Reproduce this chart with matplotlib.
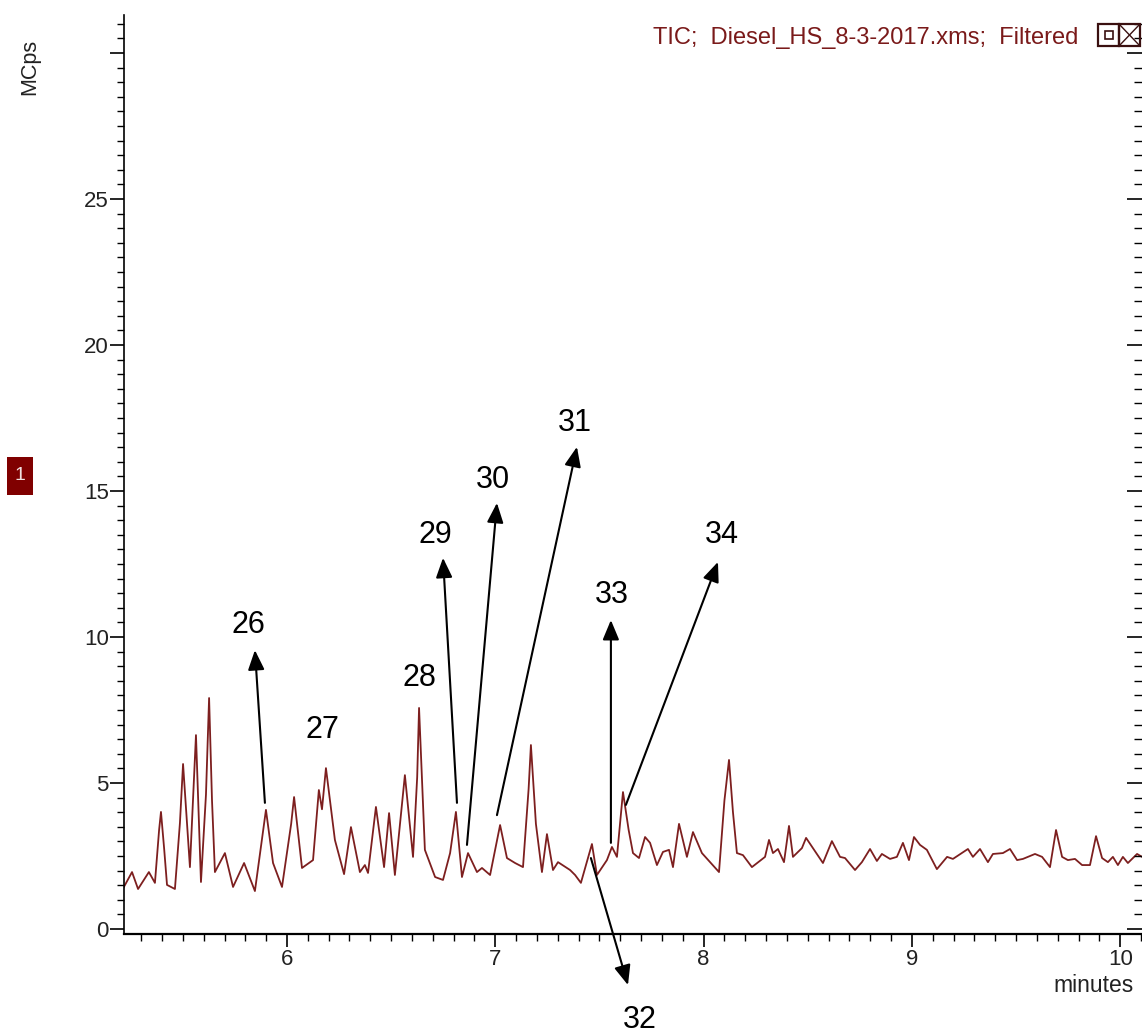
import matplotlib
matplotlib.use("Agg")
import matplotlib.pyplot as plt
from matplotlib.patches import Rectangle
from matplotlib.lines import Line2D
from matplotlib.ticker import MultipleLocator

plt.rcParams["font.family"] = ["Liberation Sans", "DejaVu Sans"]

# chromatogram trace (minutes, MCps)
times = [
    5.217, 5.256, 5.285, 5.337, 5.366, 5.386, 5.395, 5.410, 5.424, 5.462,
    5.486, 5.501, 5.534, 5.563, 5.587, 5.611, 5.626, 5.640, 5.654, 5.702,
    5.741, 5.794, 5.846, 5.880, 5.899, 5.933, 5.976, 6.020, 6.034, 6.072,
    6.125, 6.153, 6.168, 6.187, 6.230, 6.274, 6.307, 6.350, 6.374, 6.389,
    6.427, 6.466, 6.490, 6.518, 6.566, 6.605, 6.625, 6.634, 6.662, 6.711,
    6.749, 6.783, 6.811, 6.840, 6.869, 6.912, 6.936, 6.975, 7.023, 7.056,
    7.095, 7.133, 7.160, 7.171, 7.195, 7.224, 7.248, 7.277, 7.301, 7.359,
    7.383, 7.411, 7.464, 7.488, 7.536, 7.560, 7.584, 7.613, 7.640, 7.661,
    7.690, 7.719, 7.743, 7.776, 7.805, 7.834, 7.853, 7.882, 7.920, 7.949,
    7.992, 8.031, 8.074, 8.100, 8.122, 8.141, 8.160, 8.189, 8.232, 8.295,
    8.314, 8.333, 8.357, 8.386, 8.410, 8.429, 8.472, 8.492, 8.525, 8.573,
    8.616, 8.655, 8.679, 8.727, 8.760, 8.799, 8.832, 8.856, 8.895, 8.928,
    8.957, 8.986, 9.010, 9.039, 9.072, 9.120, 9.169, 9.197, 9.269, 9.293,
    9.327, 9.365, 9.389, 9.437, 9.471, 9.505, 9.533, 9.557, 9.591, 9.625,
    9.663, 9.692, 9.721, 9.749, 9.783, 9.817, 9.855, 9.884, 9.913, 9.941,
    9.965, 9.989, 10.013, 10.037, 10.081, 10.105,
]
intensity = [
    1.44, 1.95, 1.37, 1.95, 1.58, 3.39, 4.01, 2.77, 1.51, 1.37,
    3.63, 5.65, 2.12, 6.64, 1.61, 4.60, 7.91, 4.40, 1.95, 2.60,
    1.44, 2.26, 1.30, 3.10, 4.08, 2.26, 1.44, 3.60, 4.52, 2.09,
    2.36, 4.76, 4.10, 5.51, 3.05, 1.88, 3.49, 1.95, 2.19, 1.92,
    4.18, 2.12, 3.97, 1.85, 5.27, 2.47, 5.20, 7.57, 2.71, 1.78,
    1.68, 2.60, 4.01, 1.78, 2.60, 1.95, 2.09, 1.85, 3.56, 2.43,
    2.26, 2.12, 4.80, 6.30, 3.60, 1.95, 3.25, 2.02, 2.29, 2.02,
    1.85, 1.58, 2.91, 1.85, 2.36, 2.81, 2.47, 4.69, 3.40, 2.60,
    2.43, 3.15, 2.95, 2.19, 2.64, 2.71, 2.12, 3.60, 2.47, 3.32,
    2.60, 2.29, 1.95, 4.40, 5.79, 4.00, 2.60, 2.53, 2.12, 2.47,
    3.05, 2.60, 2.74, 2.29, 3.53, 2.47, 2.77, 3.12, 2.77, 2.26,
    3.01, 2.47, 2.43, 2.02, 2.29, 2.74, 2.33, 2.57, 2.40, 2.47,
    2.95, 2.36, 3.15, 2.88, 2.71, 2.05, 2.47, 2.40, 2.74, 2.47,
    2.74, 2.29, 2.57, 2.60, 2.74, 2.36, 2.40, 2.47, 2.57, 2.47,
    2.12, 3.39, 2.47, 2.36, 2.40, 2.19, 2.19, 3.18, 2.43, 2.29,
    2.47, 2.19, 2.47, 2.26, 2.57, 2.47,
]

# peak numbers: label position, arrow tail (on the peak), arrow head
peak_labels = ["26", "27", "28", "29", "30", "31", "32", "33", "34"]
label_pos = [
    (5.813, 10.41), (6.168, 6.82), (6.634, 8.60), (6.711, 13.49),
    (6.989, 15.38), (7.383, 17.33), (7.695, -3.12), (7.560, 11.44),
    (8.088, 13.49),
]
arrow_tail = [
    (5.894, 4.32), None, None, (6.816, 4.32), (6.864, 2.88),
    (7.008, 3.90), (7.459, 2.43), (7.555, 2.95), (7.627, 4.25),
]
arrow_head = [
    (5.846, 9.55), None, None, (6.749, 12.71), (7.008, 14.59),
    (7.392, 16.51), (7.637, -1.92), (7.555, 10.58), (8.069, 12.57),
]

trace_color = "#7d1f1f"
axis_color = "#222222"

fig = plt.figure(figsize=(11.42, 10.35), dpi=100)
ax = fig.add_axes([124 / 1142, 1 - 934 / 1035, 1018 / 1142, 919 / 1035])

ax.plot(times, intensity, color=trace_color, lw=1.3)

ax.set_xlim(5.2175, 10.1047)
ax.set_ylim(-0.171, 31.30)

ax.spines["top"].set_visible(False)
ax.spines["right"].set_visible(False)
ax.spines["left"].set_linewidth(1.2)
ax.spines["bottom"].set_linewidth(1.6)

ax.xaxis.set_major_locator(MultipleLocator(1))
ax.xaxis.set_minor_locator(MultipleLocator(0.1))
ax.set_yticks([0, 5, 10, 15, 20, 25, 30])
ax.set_yticklabels(["0", "5", "10", "15", "20", "25", ""])
ax.yaxis.set_minor_locator(MultipleLocator(0.5))

ax.tick_params(axis="x", which="major", direction="out", length=9, width=1.2,
               labelsize=16, pad=2, labelcolor=axis_color)
ax.tick_params(axis="x", which="minor", direction="out", length=5, width=1.0)
ax.tick_params(axis="y", which="major", direction="out", length=10, width=1.2,
               labelsize=16, pad=1, labelcolor=axis_color)
ax.tick_params(axis="y", which="minor", direction="out", length=5, width=1.0)

# inward ticks along the right edge
ax2 = ax.twinx()
ax2.set_ylim(ax.get_ylim())
ax2.set_yticks([0, 5, 10, 15, 20, 25, 30])
ax2.yaxis.set_minor_locator(MultipleLocator(0.5))
ax2.tick_params(axis="y", which="major", direction="in", length=11, width=1.2,
                labelright=False)
ax2.tick_params(axis="y", which="minor", direction="in", length=6, width=1.0)
for s in ax2.spines.values():
    s.set_visible(False)

for i, lab in enumerate(peak_labels):
    ax.text(label_pos[i][0], label_pos[i][1], lab, fontsize=22,
            ha="center", va="center", clip_on=False)
    if arrow_tail[i] is not None:
        ax.annotate("", xy=arrow_head[i], xytext=arrow_tail[i],
                    annotation_clip=False,
                    arrowprops=dict(arrowstyle="-|>,head_length=0.6,head_width=0.25",
                                    color="black", lw=1.5, mutation_scale=20,
                                    shrinkA=0, shrinkB=0))

W, H = 1142.0, 1035.0
fig.text(1094 / W, 1 - 985 / H, "minutes", fontsize=16.5, color=axis_color,
         ha="center", va="center")
fig.text(30 / W, 1 - 67 / H, "MCps", fontsize=15.5, color=axis_color,
         rotation=90, ha="center", va="center")
fig.text(1078 / W, 1 - 38 / H, "TIC;  Diesel_HS_8-3-2017.xms;  Filtered",
         fontsize=17, color="#7a1a1a", ha="right", va="center")

# small window icons next to the title
fig.patches.append(Rectangle((1098 / W, 1 - 46 / H), 21 / W, 22 / H, fill=False,
                             edgecolor="#3a1010", lw=1.6, transform=fig.transFigure))
fig.patches.append(Rectangle((1105 / W, 1 - 39 / H), 8 / W, 8 / H, fill=False,
                             edgecolor="#3a1010", lw=1.2, transform=fig.transFigure))
fig.patches.append(Rectangle((1119 / W, 1 - 46 / H), 21 / W, 22 / H, fill=False,
                             edgecolor="#3a1010", lw=1.6, transform=fig.transFigure))
fig.lines.append(Line2D([1119 / W, 1140 / W], [1 - 46 / H, 1 - 24 / H],
                        color="#3a1010", lw=1.0, transform=fig.transFigure))
fig.lines.append(Line2D([1119 / W, 1140 / W], [1 - 24 / H, 1 - 46 / H],
                        color="#3a1010", lw=1.0, transform=fig.transFigure))

# trace number badge
fig.patches.append(Rectangle((7 / W, 1 - 495 / H), 26 / W, 38 / H, facecolor="#800000",
                             edgecolor="none", transform=fig.transFigure))
fig.text(20 / W, 1 - 476 / H, "1", fontsize=14, color="#f0e0e0",
         ha="center", va="center")

fig.savefig("out.png", dpi=100)
plt.close(fig)
